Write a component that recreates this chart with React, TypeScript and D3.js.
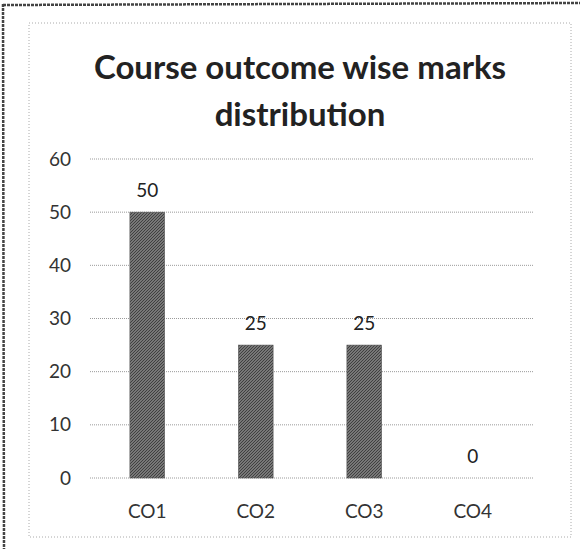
import React from "react";
import * as d3 from "d3";

const categories = ["CO1", "CO2", "CO3", "CO4"];
const marks = [50, 25, 25, 0];
const yTicks = [0, 10, 20, 30, 40, 50, 60];
const titleLines = ["Course outcome wise marks", "distribution"];

const W = 580;
const H = 549;
const FONT = "Lato, 'Open Sans', sans-serif";

export default function App() {
  const x = d3.scaleBand<string>().domain(categories).range([93, 527]).paddingInner(0.68).paddingOuter(0.34);
  const y = d3.scaleLinear().domain([0, 60]).range([478, 159]);
  const gridX0 = 90;
  const gridX1 = 533;

  return (
    <svg
      width={W}
      height={H}
      viewBox={`0 0 ${W} ${H}`}
      style={{ position: "absolute", left: 0, top: 0, background: "#fff" }}
    >
      <defs>
        <pattern id="hatch" patternUnits="userSpaceOnUse" width="3" height="3">
          <rect width="3" height="3" fill="#8f8f8f" />
          <path d="M0,3 L3,0 M-1,1 L1,-1 M2,4 L4,2" stroke="#3c3c3c" strokeWidth="1.1" />
        </pattern>
      </defs>
      <rect x={0} y={0} width={W} height={H} fill="#fff" />
      {/* outer page edge */}
      <line x1={3} y1={5} x2={W} y2={3} stroke="#444" strokeWidth={2.5} strokeDasharray="3 1" />
      <line x1={3} y1={4} x2={4} y2={H} stroke="#444" strokeWidth={2.5} strokeDasharray="3 1" />
      {/* chart box */}
      <rect x={29} y={23} width={542} height={514} fill="none" stroke="#aaa" strokeWidth={1} strokeDasharray="1 2" />

      {titleLines.map((t, i) => (
        <text
          key={t}
          x={300}
          y={79 + i * 47}
          textAnchor="middle"
          fontFamily={FONT}
          fontWeight={700}
          fontSize={33}
          fill="#222"
        >
          {t}
        </text>
      ))}

      {yTicks.map((t) => (
        <g key={t}>
          <line x1={gridX0} x2={gridX1} y1={y(t)} y2={y(t)} stroke="#9a9a9a" strokeWidth={1} strokeDasharray="1 1" />
          <text x={71} y={y(t) + 6.5} textAnchor="end" fontFamily={FONT} fontSize={19} fill="#333">
            {t}
          </text>
        </g>
      ))}

      {categories.map((c, i) => {
        const bx = x(c) as number;
        const bw = x.bandwidth();
        const v = marks[i];
        return (
          <g key={c}>
            {v > 0 && (
              <rect x={bx} y={y(v)} width={bw} height={y(0) - y(v)} fill="url(#hatch)" stroke="#555" strokeWidth={0.6} />
            )}
            <text x={bx + bw / 2} y={y(v) - 15} textAnchor="middle" fontFamily={FONT} fontSize={19} fill="#222">
              {v}
            </text>
            <text x={bx + bw / 2} y={518} textAnchor="middle" fontFamily={FONT} fontSize={19} fill="#333">
              {c}
            </text>
          </g>
        );
      })}
    </svg>
  );
}
